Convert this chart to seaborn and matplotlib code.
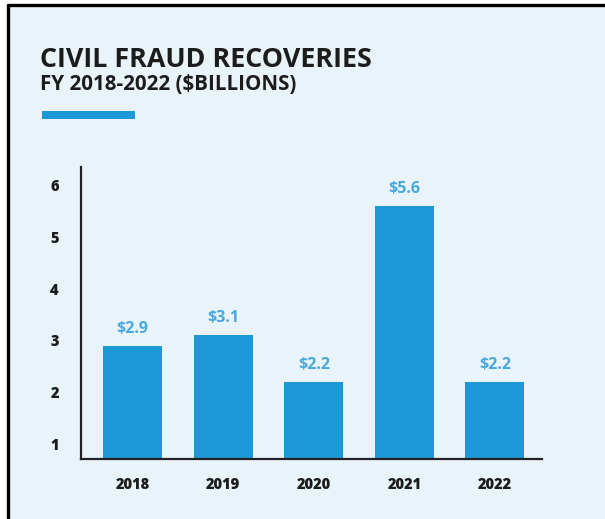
import matplotlib
matplotlib.use("Agg")
import matplotlib.pyplot as plt
from matplotlib.lines import Line2D
from matplotlib.patches import Rectangle
import seaborn as sns
import pandas as pd

years = ["2018", "2019", "2020", "2021", "2022"]
recoveries = [2.9, 3.1, 2.2, 5.6, 2.2]
value_labels = ["$2.9", "$3.1", "$2.2", "$5.6", "$2.2"]
y_ticks = [1, 2, 3, 4, 5, 6]

BG = "#e8f4fa"
BAR = "#1b98d5"
LABEL = "#4aa8df"
INK = "#1c1c1c"

sns.set_theme(style="white")
plt.rcParams["font.family"] = ["Open Sans", "DejaVu Sans"]

W, H = 605, 519
fig = plt.figure(figsize=(W / 100, H / 100), dpi=100)
fig.patch.set_facecolor("white")

# Panel background with left and top frame edges
fig.patches.append(Rectangle((8 / W, 0), 1, 1 - 5 / H, transform=fig.transFigure,
                             facecolor=BG, edgecolor="none", zorder=-10))
fig.lines.append(Line2D([7.5 / W, 7.5 / W], [0, 1 - 5 / H], transform=fig.transFigure,
                        color="black", lw=2.4))
fig.lines.append(Line2D([7.5 / W, 1], [1 - 5 / H, 1 - 5 / H], transform=fig.transFigure,
                        color="black", lw=2.4))

ax = fig.add_axes([81 / W, 1 - 459 / H, 461 / W, 292 / H], zorder=5)
ax.set_facecolor(BG)

df = pd.DataFrame({"year": years, "value": recoveries})
sns.barplot(data=df, x="year", y="value", color=BAR, width=0.65,
            saturation=1, linewidth=0, ax=ax)

for i, (v, lab) in enumerate(zip(recoveries, value_labels)):
    ax.text(i, v + 0.17, lab, ha="center", va="bottom", color=LABEL,
            fontsize=11.5, fontweight="bold")

ax.set_xlim(-0.57, 4.52)
ax.set_ylim(0.71, 6.35)
ax.set_yticks(y_ticks)
ax.set_yticklabels([str(t) for t in y_ticks])
ax.set_xlabel("")
ax.set_ylabel("")
ax.tick_params(axis="both", length=0, colors=INK, labelsize=10.5)
ax.tick_params(axis="y", pad=16)
ax.tick_params(axis="x", pad=13)
for lbl in ax.get_xticklabels() + ax.get_yticklabels():
    lbl.set_fontweight("heavy")

for side in ["top", "right"]:
    ax.spines[side].set_visible(False)
for side in ["left", "bottom"]:
    ax.spines[side].set_color("#222222")
    ax.spines[side].set_linewidth(1.6)

fig.text(40 / W, 1 - 67 / H, "CIVIL FRAUD RECOVERIES", fontsize=19.4,
         fontweight="bold", color=INK, ha="left", va="baseline")
fig.text(40 / W, 1 - 90 / H, "FY 2018-2022 ($BILLIONS)", fontsize=14.8,
         fontweight="bold", color=INK, ha="left", va="baseline")
fig.patches.append(Rectangle((42 / W, 1 - 119 / H), 93 / W, 8 / H,
                             transform=fig.transFigure, facecolor=BAR,
                             edgecolor="none"))

fig.savefig("out.png", dpi=100, facecolor=fig.get_facecolor())
